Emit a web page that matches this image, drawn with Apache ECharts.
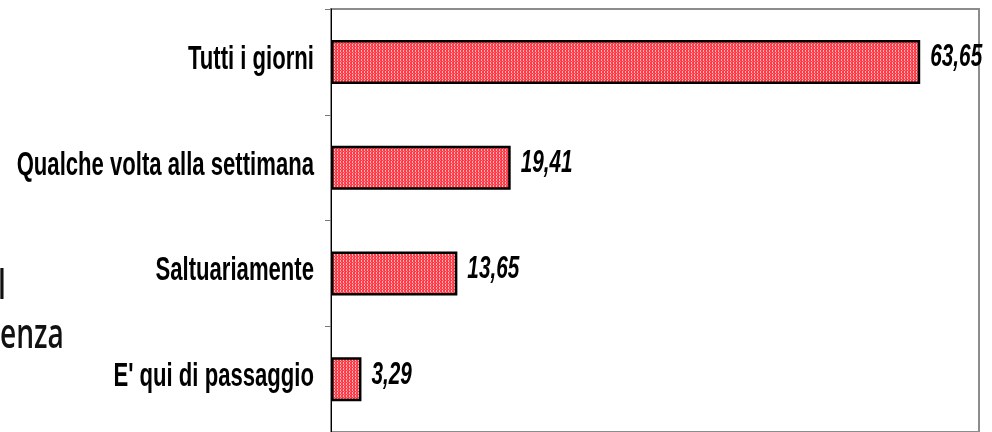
<!DOCTYPE html>
<html>
<head>
<meta charset="utf-8">
<script src="https://cdn.jsdelivr.net/npm/echarts@6/dist/echarts.min.js"></script>
<style>
html,body{margin:0;padding:0;background:#fff;}
#chart{width:992px;height:432px;}
</style>
</head>
<body>
<div id="chart"></div>
<script>
const categories = ['Tutti i giorni', 'Qualche volta alla settimana', 'Saltuariamente', "E' qui di passaggio"];
const values = [63.65, 19.41, 13.65, 3.29];
const sideTexts = ['l', 'enza'];

// the source image is squeezed horizontally
const SQUEEZE = 0.67;

// dotted red fill pattern
const tile = document.createElement('canvas');
tile.width = 3; tile.height = 3;
const tctx = tile.getContext('2d');
tctx.fillStyle = '#ff3a46';
tctx.fillRect(0, 0, 3, 3);
tctx.fillStyle = '#ffb4b8';
tctx.fillRect(1, 0, 1, 1);
tctx.fillRect(1, 2, 1, 1);
tctx.fillStyle = '#ff7a82';
tctx.fillRect(2, 1, 1, 1);

const chart = echarts.init(document.getElementById('chart'), null, {renderer: 'canvas'});
const labelData = values.map((v, i) => [v, i]);

chart.setOption({
  animation: false,
  backgroundColor: '#fff',
  grid: {
    left: 331, right: 13, top: 9, height: 431,
    show: true, borderColor: '#8c8c8c', borderWidth: 2, backgroundColor: 'transparent'
  },
  xAxis: {
    type: 'value', min: 0, max: 70,
    axisLine: {show: false}, axisTick: {show: false}, axisLabel: {show: false}, splitLine: {show: false}
  },
  yAxis: {
    type: 'category', data: categories, inverse: true,
    axisLine: {show: true, lineStyle: {color: '#000', width: 1}},
    axisTick: {show: true, length: 6, lineStyle: {color: '#777'}},
    axisLabel: {show: false}
  },
  series: [{
    type: 'bar',
    data: values,
    barWidth: 44,
    itemStyle: {
      color: {image: tile, repeat: 'repeat'},
      borderColor: '#000', borderWidth: 2.5
    }
  }, {
    type: 'custom',
    data: labelData,
    encode: {x: 0, y: 1},
    clip: false,
    silent: true,
    z: 5,
    renderItem: function (params, api) {
      const idx = api.value(1);
      const base = api.coord([0, idx]);
      const end = api.coord([api.value(0), idx]);
      return {
        type: 'group',
        children: [{
          type: 'text',
          x: base[0] - 17, y: base[1] - 2,
          scaleX: SQUEEZE,
          style: {
            text: categories[idx], x: 0, y: 0,
            textAlign: 'right', textVerticalAlign: 'middle',
            align: 'right', verticalAlign: 'middle',
            font: "bold 33px 'Liberation Sans', Arial, sans-serif", fill: '#000'
          }
        }, {
          type: 'text',
          x: end[0] + 10, y: end[1] - 4,
          scaleX: SQUEEZE,
          style: {
            text: String(api.value(0)).replace('.', ','), x: 0, y: 0,
            textAlign: 'left', textVerticalAlign: 'middle',
            align: 'left', verticalAlign: 'middle',
            font: "italic bold 31px 'Liberation Sans', Arial, sans-serif", fill: '#000'
          }
        }]
      };
    }
  }],
  graphic: [
    {type: 'text', x: -2, y: 266, scaleX: 0.67, style: {text: sideTexts[0], font: "600 42px 'Open Sans'", fill: '#111'}},
    {type: 'text', x: 0, y: 315, scaleX: 0.67, style: {text: sideTexts[1], font: "600 42px 'Open Sans'", fill: '#111'}}
  ]
});
</script>
</body>
</html>
